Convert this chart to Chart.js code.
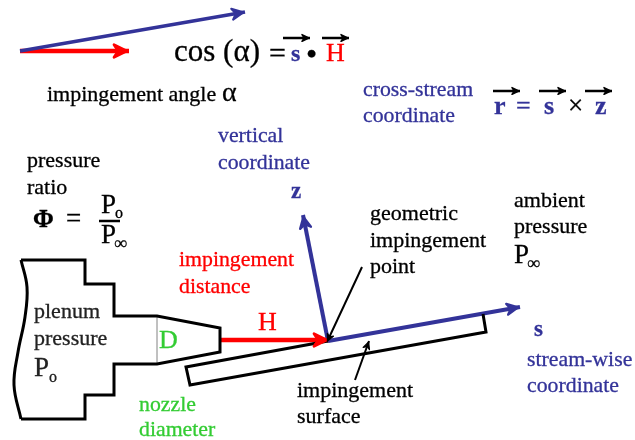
<!DOCTYPE html>
<html>
<head>
<meta charset="utf-8">
<title>Impingement geometry</title>
<script src="https://cdn.jsdelivr.net/npm/chart.js@4"></script>
<style>
  html, body { margin: 0; padding: 0; background: #fff; }
  canvas { display: block; }
</style>
</head>
<body>
<canvas id="diagram" width="635" height="440"></canvas>
<script>
// Data (x, y in picture units)
const nozzleX = [85, 21, 85, 85, 114, 114, 157, 220, 220, 157, 114, 114, 85, 85, 21];
const nozzleY = [260, 260, 260, 284, 284, 316, 316, 328, 352, 364, 364, 395, 395, 419, 419];
const plenumEdgeX = [21, 27, 25, 18, 14, 21];
const plenumEdgeY = [260, 287, 317, 352, 385, 419];
const throatX = [157, 157];
const throatY = [316, 364];
const surfaceX = [328, 186, 190, 486, 483];
const surfaceY = [341, 367, 385, 332, 314];
const angleBlueX = [20, 245];
const angleBlueY = [51, 12];
const angleRedX = [20, 129];
const angleRedY = [51, 51];
const distanceX = [220, 329];
const distanceY = [340, 340];
const streamX = [328, 520];
const streamY = [341, 307];
const verticalX = [328, 303];
const verticalY = [341, 215];
const pointLeaderX = [362, 327];
const pointLeaderY = [267, 342];
const surfaceLeaderX = [355, 369];
const surfaceLeaderY = [380, 341];
const vectorBarX = [[283, 310], [322, 349], [493, 520], [539, 566], [585, 612]];
const vectorBarY = [[38, 38], [38, 38], [91, 91], [91, 91], [91, 91]];
const fractionX = [99, 120];
const fractionY = [221, 221];

const BLACK = '#000000';
const BLUE = '#333399';
const RED = '#ff0000';
const GREEN = '#33cc33';
const DARK = '#222222';

function line(xs, ys, color, width, extra) {
    return Object.assign({
        data: xs.map((x, i) => ({ x: x, y: ys[i] })),
        showLine: true,
        pointRadius: 0,
        borderColor: color,
        borderWidth: width,
        borderJoinStyle: 'miter',
        fill: false
    }, extra || {});
}

const datasets = [
    line(nozzleX, nozzleY, BLACK, 3),
    line(plenumEdgeX, plenumEdgeY, BLACK, 3, { tension: 0.4 }),
    line(throatX, throatY, '#b8b8b8', 1),
    line(surfaceX, surfaceY, BLACK, 3),
    line(angleBlueX, angleBlueY, BLUE, 3.5, { head: 13 }),
    line(angleRedX, angleRedY, RED, 4.5, { head: 15 }),
    line(streamX, streamY, BLUE, 4, { head: 13 }),
    line(verticalX, verticalY, BLUE, 4, { head: 13 }),
    line(distanceX, distanceY, RED, 4.5, { head: 15 }),
    line(pointLeaderX, pointLeaderY, BLACK, 2, { head: 8 }),
    line(surfaceLeaderX, surfaceLeaderY, BLACK, 2, { head: 8 }),
    line(fractionX, fractionY, BLACK, 2.5)
];
vectorBarX.forEach((xs, i) => {
    datasets.push(line(xs, vectorBarY[i], BLACK, 2.5, { head: 8 }));
});

// [text, x, y, size, colour, bold]
const captions = [
    ['cos (α)', 174, 61, 31, BLACK],
    ['=', 269, 63, 30, BLACK],
    ['s', 291, 61, 24, BLUE, true],
    ['•', 306, 65, 32, BLACK],
    ['H', 326, 61, 26, RED],
    ['impingement angle', 47, 101, 22, BLACK],
    ['α', 222, 101, 28, BLACK],
    ['cross-stream', 363, 96, 21.8, BLUE],
    ['coordinate', 363, 122, 21.8, BLUE],
    ['r', 494, 114, 26, BLUE, true],
    ['=', 516, 114, 26, BLUE],
    ['s', 544, 114, 26, BLUE, true],
    ['×', 568, 114, 27, BLACK],
    ['z', 595, 114, 26, BLUE, true],
    ['vertical', 218, 142, 21.8, BLUE],
    ['coordinate', 218, 169, 21.8, BLUE],
    ['z', 291, 198, 23, BLUE, true],
    ['pressure', 27, 167, 22, BLACK],
    ['ratio', 27, 194, 22, BLACK],
    ['Φ', 33, 227, 25, BLACK, true],
    ['=', 66, 227, 27, BLACK],
    ['P', 101, 213, 27, BLACK],
    ['o', 115, 218, 16, BLACK],
    ['P', 101, 243, 27, BLACK],
    ['∞', 114, 249, 18, BLACK],
    ['geometric', 370, 220, 22, BLACK],
    ['impingement', 370, 247, 22, BLACK],
    ['point', 370, 273, 22, BLACK],
    ['ambient', 514, 207, 22, BLACK],
    ['pressure', 514, 233, 22, BLACK],
    ['P', 514, 263, 27, BLACK],
    ['∞', 527, 269, 18, BLACK],
    ['impingement', 179, 266, 21.8, RED],
    ['distance', 179, 293, 21.8, RED],
    ['H', 258, 330, 26, RED],
    ['s', 534, 336, 23, BLUE, true],
    ['stream-wise', 527, 366, 21.8, BLUE],
    ['coordinate', 527, 392, 21.8, BLUE],
    ['plenum', 34, 318, 22, DARK],
    ['pressure', 34, 345, 22, DARK],
    ['P', 34, 376, 27, DARK],
    ['o', 49, 382, 16, DARK],
    ['D', 159, 348, 26, GREEN],
    ['nozzle', 139, 411, 21.8, GREEN],
    ['diameter', 139, 436, 21.8, GREEN],
    ['impingement', 297, 397, 22, BLACK],
    ['surface', 297, 423, 22, BLACK]
];

// Barbed arrow heads on the last segment of any dataset with a head size
const arrowHeads = {
    id: 'arrowHeads',
    afterDatasetsDraw(chart) {
        const { ctx, scales } = chart;
        chart.data.datasets.forEach(ds => {
            if (!ds.head) return;
            const n = ds.data.length;
            const tx = scales.x.getPixelForValue(ds.data[n - 1].x);
            const ty = scales.y.getPixelForValue(ds.data[n - 1].y);
            const fx = scales.x.getPixelForValue(ds.data[n - 2].x);
            const fy = scales.y.getPixelForValue(ds.data[n - 2].y);
            const a = Math.atan2(ty - fy, tx - fx);
            const inset = ds.borderWidth * 0.5;
            ctx.save();
            ctx.translate(tx, ty);
            ctx.rotate(a);
            ctx.fillStyle = ds.borderColor;
            ctx.strokeStyle = ds.borderColor;
            ctx.lineWidth = ds.borderWidth * 0.6;
            ctx.lineJoin = 'round';
            ctx.beginPath();
            ctx.moveTo(-inset, 0);
            ctx.lineTo(-ds.head, -ds.head * 0.42);
            ctx.lineTo(-ds.head * 0.72, 0);
            ctx.lineTo(-ds.head, ds.head * 0.42);
            ctx.closePath();
            ctx.fill();
            ctx.stroke();
            ctx.restore();
        });
    }
};

const captionText = {
    id: 'captionText',
    afterDraw(chart) {
        const { ctx, scales } = chart;
        ctx.save();
        ctx.textBaseline = 'alphabetic';
        ctx.lineWidth = 0.3;
        captions.forEach(c => {
            const x = scales.x.getPixelForValue(c[1]);
            const y = scales.y.getPixelForValue(c[2]);
            ctx.font = `${c[5] ? 'bold ' : ''}${c[3]}px "Liberation Serif", serif`;
            ctx.fillStyle = c[4];
            ctx.strokeStyle = c[4];
            ctx.fillText(c[0], x, y);
            ctx.strokeText(c[0], x, y);
        });
        ctx.restore();
    }
};

const whiteBackground = {
    id: 'whiteBackground',
    beforeDraw(chart) {
        chart.ctx.fillStyle = '#ffffff';
        chart.ctx.fillRect(0, 0, chart.width, chart.height);
    }
};

new Chart(document.getElementById('diagram').getContext('2d'), {
    type: 'scatter',
    data: { datasets: datasets },
    options: {
        responsive: false,
        animation: false,
        layout: { padding: 0 },
        plugins: { legend: { display: false }, tooltip: { enabled: false } },
        scales: {
            x: { type: 'linear', min: 0, max: 635, display: false },
            y: { type: 'linear', min: 0, max: 440, reverse: true, display: false }
        }
    },
    plugins: [whiteBackground, arrowHeads, captionText]
});
</script>
</body>
</html>
